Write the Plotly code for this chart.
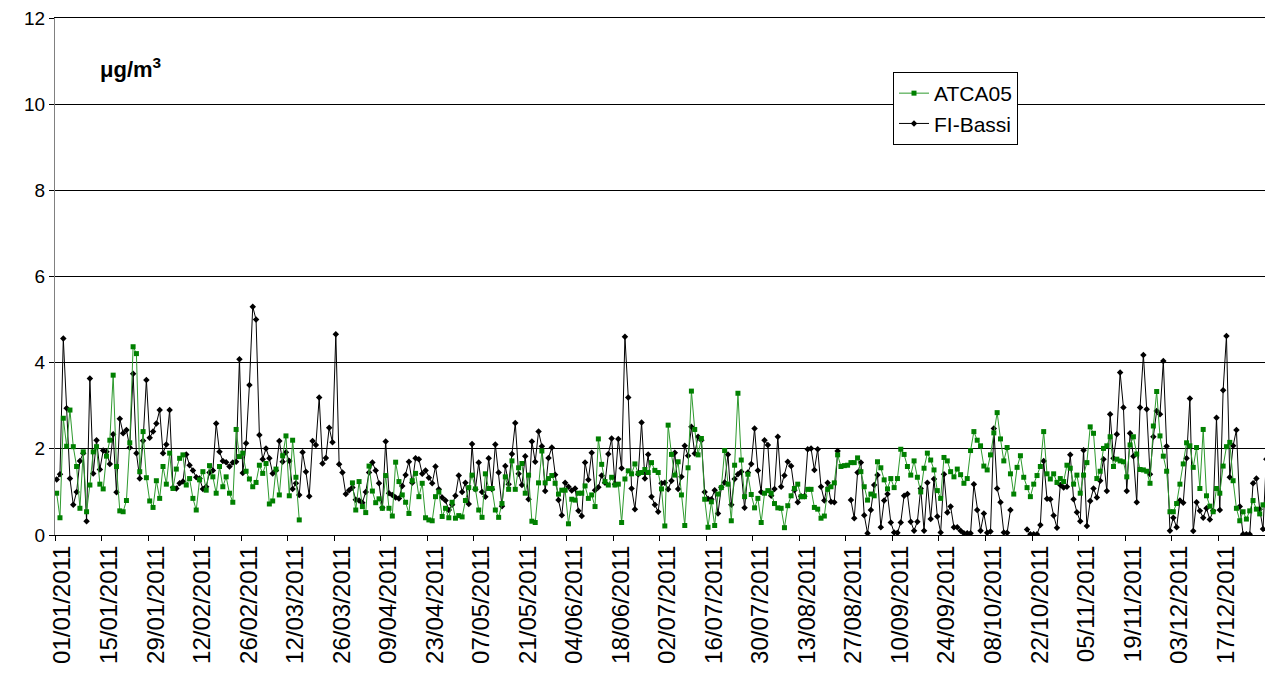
import pandas as pd
import plotly.graph_objects as go

N = None
fi_bassi = [
    1.29, 1.41, 4.56, 2.94, 1.31, 0.70, 1.00, 1.72, 1.90, 0.32,
    3.63, 1.43, 2.20, 1.52, 1.96, 1.93, 1.65, 2.34, 0.99, 2.70,
    2.36, 2.44, 2.03, 3.74, 1.90, 1.31, 2.19, 3.60, 2.26, 2.40,
    2.59, 2.90, 1.90, 2.10, 2.90, 1.10, 1.08, 1.20, 1.24, 1.87,
    1.62, 1.50, 1.34, 1.31, 1.07, 1.12, 1.45, 1.50, 2.59, 1.93,
    1.72, 1.69, 1.59, 1.68, 1.70, 4.08, 1.44, 2.13, 3.48, 5.30,
    5.00, 2.32, 1.76, 2.01, 1.78, 1.43, 1.50, 2.18, 1.70, 1.92,
    1.72, 1.07, 1.20, 0.93, 1.92, 1.47, 0.90, 2.18, 2.09, 3.19,
    1.66, 1.79, 2.49, 2.15, 4.66, 1.64, 1.45, 0.95, 1.04, 1.10,
    0.82, 0.80, 0.75, 1.00, 1.45, 1.68, 1.50, 1.20, 0.63, 2.17,
    0.97, 0.93, 0.87, 0.85, 1.14, 1.39, 1.70, 1.21, 1.78, 1.76,
    1.42, 1.50, 1.33, 1.20, 1.59, 1.06, 0.87, 0.80, 0.58, 0.70,
    0.91, 1.38, 1.00, 1.21, 0.72, 2.11, 1.06, 1.68, 1.00, 0.89,
    1.78, 1.06, 2.10, 1.45, 0.67, 1.60, 1.18, 1.88, 2.60, 1.42,
    1.16, 1.83, 0.83, 2.17, 1.70, 2.40, 2.06, 1.02, 1.79, 2.03,
    1.40, 0.81, 0.46, 1.21, 1.12, 1.03, 1.08, 0.56, 0.44, 1.68,
    1.28, 1.91, 1.04, 1.11, 1.38, 1.21, 1.88, 2.24, 1.18, 2.23,
    1.55, 4.60, 3.19, 1.08, 0.60, 1.41, 2.61, 1.31, 1.87, 0.89,
    0.70, 0.54, 1.20, 1.21, 1.06, 1.26, 1.91, 1.07, 1.35, 2.07,
    1.84, 2.51, 1.89, 2.28, 2.20, 1.00, 0.84, 0.83, 1.04, 0.50,
    1.11, 1.22, 1.87, 0.70, 1.30, 1.41, 1.47, 0.63, 1.45, 1.65,
    2.47, 1.50, 1.00, 2.20, 2.09, 0.91, 1.07, 2.28, 1.12, 1.38,
    1.70, 1.60, 1.04, 0.76, 0.90, 0.90, 1.99, 2.01, 1.51, 1.99,
    1.12, 0.80, 1.21, 0.77, 0.76, 1.95, N, N, N, 0.81,
    0.39, 1.45, 1.68, 0.46, 0.04, 0.58, 1.16, 1.39, 0.18, 0.80,
    0.95, 0.29, 0.06, 0.05, 0.29, 0.91, 0.95, 0.31, 0.10, 0.31,
    1.08, 0.10, 1.21, 0.37, 1.30, 0.43, 0.06, 1.41, 0.52, 0.66,
    0.18, 0.18, 0.10, 0.04, 0.04, 0.04, 1.18, 0.58, 0.10, 0.50,
    0.05, 0.08, 2.47, 1.08, 0.76, 0.06, 0.05, 0.58, N, N,
    N, N, 0.13, 0.02, 0.02, 0.02, 0.23, 1.72, 0.84, 0.83,
    0.45, 0.17, 1.16, 1.10, 1.12, 1.86, 0.83, 0.53, 0.32, 1.97,
    0.21, 0.79, 1.08, 0.87, 1.26, 1.76, 1.02, 2.80, 1.78, 2.34,
    3.77, 2.96, 1.02, 2.36, 1.83, 0.76, 2.96, 4.18, 2.92, 1.41,
    2.28, 2.88, 2.80, 4.04, 2.06, 0.10, 0.40, 0.18, 0.80, 0.75,
    1.78, 3.17, 0.09, 0.76, 0.56, 0.40, 0.62, 0.36, 0.56, 2.72,
    0.58, 3.36, 4.62, 1.34, 2.07, 2.44, 0.66, 0.02, 0.02, 0.02,
    1.20, 1.31, 0.60, 0.14, 1.76,
]

atca05 = [
    0.97, 0.40, 2.71, 2.06, 2.90, 2.05, 1.59, 0.62, 1.93, 0.54,
    1.16, 1.93, 2.05, 1.18, 1.07, 1.83, 2.20, 3.71, 1.59, 0.56,
    0.54, 0.80, 2.14, 4.37, 4.21, 1.47, 2.40, 1.33, 0.79, 0.64,
    1.26, 0.85, 1.59, 1.18, 1.90, 1.08, 1.53, 1.78, 1.86, 1.16,
    1.31, 0.85, 0.58, 1.28, 1.47, 1.04, 1.61, 1.35, 0.97, 1.59,
    1.12, 1.35, 0.97, 0.76, 2.45, 1.82, 1.90, 1.48, 1.30, 1.12,
    1.22, 1.62, 1.43, 1.66, 0.72, 0.79, 1.53, 0.93, 1.84, 2.30,
    0.91, 2.20, 1.34, 0.35, N, N, N, N, N, N,
    N, N, N, N, N, N, N, N, N, 1.21,
    0.58, 1.24, 0.66, 0.52, 1.60, 1.02, 0.75, 0.84, 0.62, 1.38,
    0.62, 0.44, 1.69, 1.24, 0.93, 0.76, 0.50, 1.26, 1.43, 0.89,
    1.20, 0.40, 0.35, 0.33, 0.89, 1.00, 0.43, 0.62, 0.40, 0.76,
    0.39, 0.45, 0.42, 0.80, 1.10, 1.39, 1.07, 0.58, 0.41, 1.42,
    1.08, 1.08, 0.58, 0.41, 0.73, 1.35, 1.06, 1.72, 1.06, 1.56,
    1.66, 0.97, 1.39, 0.32, 0.29, 1.21, 1.95, 1.21, 1.31, 1.38,
    1.20, 0.95, 1.04, 1.04, 0.26, 0.83, 0.81, 0.97, 0.97, 1.14,
    0.85, 0.93, 0.66, 2.23, 1.64, 1.24, 1.16, 1.34, 1.16, 1.18,
    0.29, 1.30, 1.49, 1.42, 1.65, 1.43, 1.45, 1.52, 1.45, 1.68,
    1.50, 1.45, 1.07, 0.21, 2.55, 1.87, 1.39, 1.70, 0.93, 0.22,
    1.56, 3.34, 2.45, 1.86, 2.24, 0.83, 0.18, 0.77, 0.22, 0.95,
    1.10, 1.96, 1.18, 0.33, 1.62, 3.29, 1.74, 0.89, 1.41, 0.94,
    0.63, 0.85, 0.29, 0.97, 1.03, 0.97, 0.73, 0.63, 0.62, 0.17,
    0.68, 0.91, 1.08, 1.18, 0.89, 0.89, 1.06, 1.06, 0.64, 0.60,
    0.39, 0.44, 1.06, 1.12, 1.21, 1.86, 1.59, 1.61, 1.62, 1.68,
    1.68, 1.79, 1.47, 1.12, 0.81, 0.95, 0.91, 1.70, 1.56, 1.28,
    1.07, 1.31, 1.10, 1.31, 1.99, 1.87, 1.59, 1.39, 1.72, 1.34,
    1.00, 1.55, 1.90, 1.74, 1.51, 1.03, 0.85, 1.80, 1.72, 1.47,
    1.35, 1.53, 1.40, 1.20, 1.31, 1.96, 2.40, 2.20, 2.07, 1.60,
    1.51, 1.86, 2.37, 2.84, 2.23, 1.72, 2.03, 1.42, 0.95, 1.57,
    1.84, 1.34, 1.10, 0.89, 1.18, 1.38, 1.59, 2.40, 1.42, 1.30,
    1.42, 1.22, 1.31, 1.24, 1.62, 1.55, 1.18, 1.39, 0.97, 1.39,
    1.68, 2.51, 2.36, 1.31, 1.48, 2.01, 2.07, 2.28, 1.59, 1.76,
    1.72, 1.70, 1.35, 2.09, 2.28, 1.88, 1.52, 1.51, 1.48, 1.20,
    2.53, 3.33, 2.30, 1.83, 1.48, 0.54, 0.54, 0.73, 1.18, 1.65,
    2.14, 2.07, 1.57, 2.03, 1.08, 2.45, 0.91, 0.67, 0.54, 1.08,
    0.97, 1.60, 2.05, 2.15, 1.26, 0.62, 0.33, 0.54, 0.37, 0.56,
    0.80, 0.60, 0.49, 0.70, 0.70,
]

dates_fi = pd.date_range("2011-01-01", periods=len(fi_bassi), freq="D")
dates_at = pd.date_range("2011-01-01", periods=len(atca05), freq="D")

tick_dates = pd.date_range("2011-01-01", "2011-12-30", freq="14D")
tick_text = [d.strftime("%d/%m/%Y") for d in tick_dates]
tick_bounds = [d - pd.Timedelta(hours=12) for d in tick_dates]

FONT = "Arial, Liberation Sans, sans-serif"

fig = go.Figure()
fig.add_trace(go.Scatter(
    x=dates_fi, y=fi_bassi, name="FI-Bassi", mode="lines+markers",
    legendgroup="b", legendrank=2,
    line=dict(color="#000000", width=1),
    marker=dict(symbol="diamond", size=5, color="#000000"),
))
fig.add_trace(go.Scatter(
    x=dates_at, y=atca05, name="ATCA05", mode="lines+markers",
    legendgroup="a", legendrank=1,
    line=dict(color="#2e9a2e", width=1),
    marker=dict(symbol="square", size=5, color="#008000"),
))

# page body has an 8px default margin: figure is sized/offset to compensate
fig.update_layout(
    width=1265, height=674,
    margin=dict(l=47, r=5, t=10, b=147, autoexpand=False),
    paper_bgcolor="white", plot_bgcolor="white",
    font=dict(family=FONT, size=19, color="black"),
    showlegend=True,
    legend=dict(
        x=(893 - 55) / 1213, y=(535 - 72) / 517, xanchor="left", yanchor="top",
        bordercolor="black", borderwidth=1, bgcolor="white",
        traceorder="grouped", font=dict(size=21, family=FONT),
        itemwidth=30, tracegroupgap=0,
    ),
    xaxis=dict(
        type="date", automargin=False,
        range=["2010-12-31 12:00", "2011-12-31 12:00"],
        tickmode="array", tickvals=list(tick_dates), ticktext=tick_text,
        tickangle=-90, ticks="", ticklabelshift=6, ticklabeloverflow="allow",
        tickfont=dict(size=24, family=FONT),
        showgrid=False, showline=True, linecolor="black", linewidth=1,
        mirror=True, zeroline=False,
        minor=dict(tickmode="array", tickvals=tick_bounds, ticks="outside",
                   ticklen=5, tickcolor="black", showgrid=False),
    ),
    yaxis=dict(
        automargin=False,
        range=[0, 12], tickvals=[0, 2, 4, 6, 8, 10, 12],
        ticks="outside", ticklen=5, tickcolor="black", ticklabeloverflow="allow",
        tickfont=dict(size=19, family=FONT),
        showgrid=True, gridcolor="black", gridwidth=1,
        showline=True, linecolor="#808080", linewidth=1, mirror=True,
        zeroline=False,
    ),
    annotations=[dict(
        text="<b>μg/m<sup>3</sup></b>", xref="paper", yref="paper",
        x=(98 - 55) / 1213, y=(535 - 68) / 517, xanchor="left", yanchor="middle",
        showarrow=False, font=dict(size=22, family=FONT, color="black"),
    )],
)

fig.write_html("out.html")
